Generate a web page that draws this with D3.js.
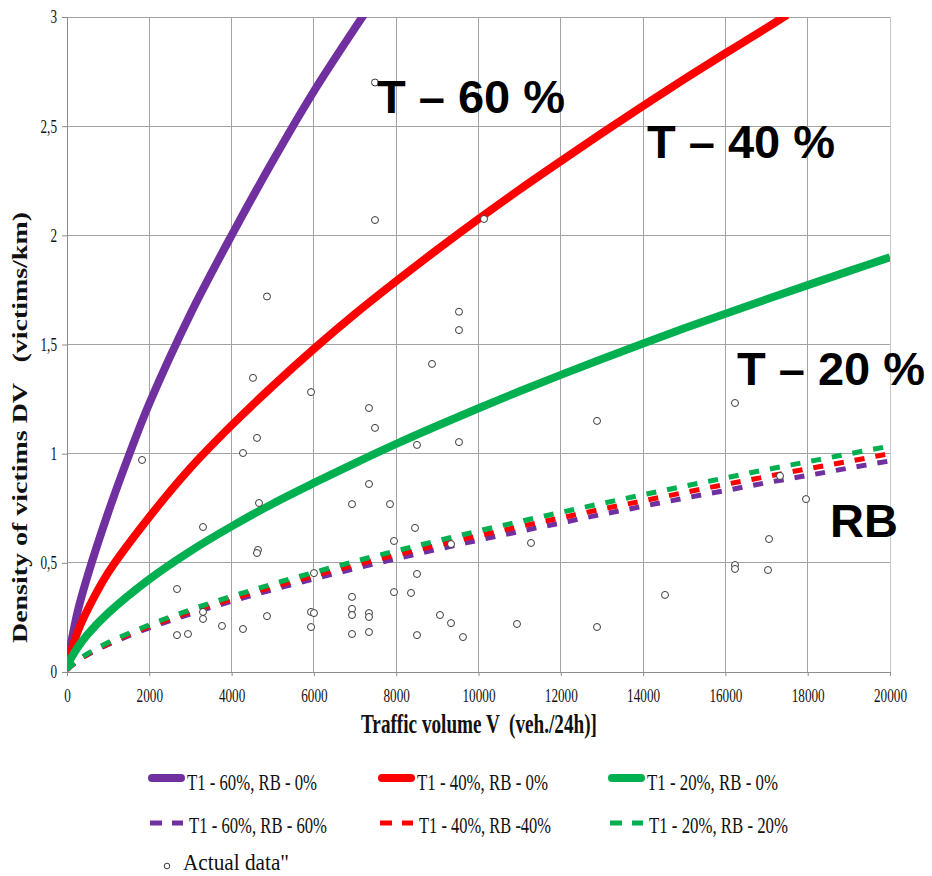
<!DOCTYPE html>
<html><head><meta charset="utf-8">
<script src="https://cdn.jsdelivr.net/npm/d3@7"></script>
<style>body{margin:0;background:#fff}svg{display:block}</style>
</head><body><svg id="c" width="932" height="876"></svg>
<script>
// ---------- data ----------
const xTicks = [0,2000,4000,6000,8000,10000,12000,14000,16000,18000,20000];
const yTicks = [0,0.5,1,1.5,2,2.5,3];
const yTickLabels = ["0","0,5","1","1,5","2","2,5","3"];

const purpleV = [0,250,500,1000,1500,2000,3000,4000,5000,6000,7000,7500];
const purpleSolid = [0.03,0.27,0.44,0.73,0.99,1.23,1.64,2.0,2.34,2.66,2.95,3.09];

const redV = [0,250,500,1000,2000,3000,4000,5000,6000,7000,8000,9000,10000,11000,12000,13000,14000,15000,16000,17000,17500];
const redSolid = [0.03,0.18,0.285,0.455,0.71,0.935,1.13,1.31,1.48,1.64,1.79,1.935,2.075,2.21,2.34,2.468,2.593,2.715,2.834,2.95,3.01];

const commonV = [0,250,500,1000,2000,3000,4000,5000,6000,7000,8000,9000,10000,11000,12000,13000,14000,15000,16000,17000,18000,19000,20000];
const greenSolid   = [0.03,0.11,0.172,0.27,0.425,0.554,0.667,0.771,0.866,0.957,1.045,1.128,1.208,1.286,1.361,1.434,1.505,1.574,1.641,1.707,1.772,1.836,1.90];
const purpleDashed = [0.01,0.05,0.079,0.126,0.202,0.266,0.324,0.377,0.426,0.474,0.519,0.562,0.604,0.644,0.683,0.722,0.759,0.796,0.831,0.867,0.900,0.934,0.967];
const redDashed    = [0.01,0.051,0.081,0.13,0.209,0.275,0.334,0.389,0.441,0.49,0.536,0.581,0.624,0.666,0.706,0.746,0.784,0.822,0.859,0.895,0.931,0.965,1.0];
const greenDashed  = [0.01,0.053,0.084,0.135,0.216,0.285,0.346,0.403,0.456,0.507,0.555,0.601,0.646,0.689,0.731,0.772,0.812,0.851,0.889,0.927,0.963,0.999,1.035];

const actualV  = [4860,7485,7485,10134,9526,9526,4520,5930,4617,1823,4277,4666,3305,4641,4617,2673,6002,3305,3305,4860,3767,4277,2673,2940,5930,6002,5930,
                  8870,7339,7485,8505,9526,12880,7339,6926,7849,8457,7946,9332,11276,8505,6926,7946,8360,6926,6926,7339,7339,9064,9332,10935,12880,6926,7339,8505,9623,
                  16233,17327,17959,17060,16233,16233,17035,14532];
const actualDV = [1.72,2.70,2.07,2.075,1.65,1.566,1.347,1.282,1.072,0.971,1.003,0.774,0.664,0.559,0.545,0.38,0.453,0.275,0.243,0.256,0.211,0.197,0.169,0.174,0.275,0.27,0.206,
                  1.411,1.209,1.118,1.04,1.053,1.15,0.861,0.769,0.769,0.66,0.60,0.586,0.591,0.449,0.344,0.366,0.362,0.289,0.261,0.27,0.252,0.261,0.224,0.22,0.206,0.174,0.183,0.169,0.16,
                  1.232,0.898,0.792,0.609,0.49,0.472,0.467,0.353];

const seriesNames = ["T1 - 60%, RB - 0%","T1 - 40%, RB - 0%","T1 - 20%, RB - 0%",
                     "T1 - 60%, RB - 60%","T1 - 40%, RB -40%","T1 - 20%, RB - 20%"];
const pointsName = "Actual data\"";
const annotations = ["T \u2013 60 %","T \u2013 40 %","T \u2013 20 %","RB"];

// ---------- drawing ----------
const PURPLE="#7030A0", RED="#FF0000", GREEN="#00B050";
const svg = d3.select("#c");
const x = d3.scaleLinear([0,20000],[67,890]);
const y = d3.scaleLinear([0,3],[672,17]);
const serif = "'Liberation Serif','Times New Roman',serif";
const sans = "'Liberation Sans',Arial,sans-serif";
// condensed look of the original text: width per character
const charW = c => (c===","||c===".") ? 3.3 : 6.6;
const strW = s => Array.from(s).reduce((a,c)=>a+charW(c),0);

svg.append("defs").append("clipPath").attr("id","clip")
  .append("rect").attr("x",67).attr("y",17).attr("width",823).attr("height",655);

// grid
const grid = svg.append("g");
grid.selectAll("line.v").data(xTicks).join("line")
  .attr("x1",d=>x(d)).attr("x2",d=>x(d)).attr("y1",y(3)).attr("y2",y(0))
  .attr("stroke",d=>d===20000?"#c8c8c8":"#a3a3a3").attr("stroke-width",1).attr("shape-rendering","crispEdges");
grid.selectAll("line.h").data(yTicks).join("line")
  .attr("x1",x(0)).attr("x2",x(20000)).attr("y1",d=>y(d)).attr("y2",d=>y(d))
  .attr("stroke","#a3a3a3").attr("stroke-width",1).attr("shape-rendering","crispEdges");

// axes
const xAxis = svg.append("g").attr("transform",`translate(0,${y(0)})`)
  .call(d3.axisBottom(x).tickValues(xTicks).tickFormat(d=>String(d)).tickSize(4));
xAxis.select(".domain").attr("stroke","#8c8c8c");
xAxis.selectAll(".tick line").attr("stroke","#8c8c8c");
xAxis.selectAll("text").attr("y",30).attr("dy",0).attr("fill","#111")
  .style("font-family",serif).style("font-size","18px")
  .attr("textLength",function(){return strW(this.textContent);}).attr("lengthAdjust","spacingAndGlyphs");

const yAxis = svg.append("g").attr("transform",`translate(${x(0)},0)`)
  .call(d3.axisLeft(y).tickValues(yTicks).tickFormat((d,i)=>yTickLabels[i]).tickSize(5));
yAxis.select(".domain").attr("stroke","#8c8c8c");
yAxis.selectAll(".tick line").attr("stroke","#8c8c8c");
yAxis.selectAll("text").attr("x",-10).attr("dy","0.33em").attr("fill","#111")
  .style("font-family",serif).style("font-size","18px")
  .attr("textLength",function(){return strW(this.textContent);}).attr("lengthAdjust","spacingAndGlyphs");

// axis titles
svg.append("text").attr("x",479).attr("y",733).attr("text-anchor","middle")
  .attr("xml:space","preserve").style("white-space","pre")
  .attr("textLength",236).attr("lengthAdjust","spacingAndGlyphs")
  .style("font-family",serif).style("font-size","28px").style("font-weight","bold").attr("fill","#111")
  .text("Traffic volume V  (veh./24h)]");
svg.append("text").attr("transform","translate(27,643) rotate(-90)")
  .attr("xml:space","preserve").style("white-space","pre")
  .attr("textLength",431).attr("lengthAdjust","spacingAndGlyphs")
  .style("font-family",serif).style("font-size","21px").style("font-weight","bold").attr("fill","#111")
  .text("Density of victims DV   (victims/km)");

// curves
const plot = svg.append("g").attr("clip-path","url(#clip)");
const line = d3.line().x(d=>x(d[0])).y(d=>y(d[1])).curve(d3.curveCatmullRom.alpha(0.5));
const zipS = (vs,ds)=>vs.map((v,i)=>[v,ds[i]]);

const dashed = [[purpleDashed,PURPLE],[redDashed,RED],[greenDashed,GREEN]];
dashed.forEach(([ds,c])=>{
  plot.append("path").attr("d",line(zipS(commonV,ds))).attr("fill","none")
    .attr("stroke",c).attr("stroke-width",5).attr("stroke-dasharray","10,11");
});
const solid = [[purpleV,purpleSolid,PURPLE],[redV,redSolid,RED],[commonV,greenSolid,GREEN]];
solid.forEach(([vs,ds,c])=>{
  plot.append("path").attr("d",line(zipS(vs,ds))).attr("fill","none")
    .attr("stroke",c).attr("stroke-width",8).attr("stroke-linejoin","round");
});

// actual data
plot.selectAll("circle.pt").data(zipS(actualV,actualDV)).join("circle")
  .attr("cx",d=>x(d[0])).attr("cy",d=>y(d[1])).attr("r",3.5)
  .attr("fill","white").attr("stroke","#3a3a3a").attr("stroke-width",1);

// annotations (anchored in data units)
const annPos = [[7534,2.56],[14095,2.354],[16282,1.3145],[18542,0.618]];
svg.selectAll("text.ann").data(annotations).join("text")
  .attr("x",(d,i)=>x(annPos[i][0])).attr("y",(d,i)=>y(annPos[i][1]))
  .style("font-family",sans).style("font-weight","bold").style("font-size","47px").attr("fill","#000")
  .text(d=>d);

// legend
const lg = svg.append("g");
const colors = [PURPLE,RED,GREEN];
const colX = [148,378,608];
const rowY = [778,823];
const legendW = [130,131,131,138,132,139];
seriesNames.forEach((name,i)=>{
  const col = i%3, row = Math.floor(i/3);
  const g = lg.append("g");
  if(row===0){
    g.append("line").attr("x1",colX[col]+4).attr("x2",colX[col]+33).attr("y1",rowY[0]).attr("y2",rowY[0])
      .attr("stroke",colors[col]).attr("stroke-width",8).attr("stroke-linecap","round");
  } else {
    g.append("line").attr("x1",colX[col]+2).attr("x2",colX[col]+35).attr("y1",rowY[1]).attr("y2",rowY[1])
      .attr("stroke",colors[col]).attr("stroke-width",5).attr("stroke-dasharray","12,10").attr("stroke-linecap","butt");
  }
  g.append("text").attr("x",colX[col] + (row===0?39:41)).attr("y",row===0?790:833)
    .attr("textLength",legendW[i]).attr("lengthAdjust","spacingAndGlyphs")
    .style("font-family",serif).style("font-size","23px").attr("fill","#111").text(name);
});
lg.append("circle").attr("cx",167).attr("cy",866).attr("r",2.8).attr("fill","white").attr("stroke","#3a3a3a");
lg.append("text").attr("x",183).attr("y",870)
  .attr("textLength",106).attr("lengthAdjust","spacingAndGlyphs")
  .style("font-family",serif).style("font-size","23px").attr("fill","#111").text(pointsName);
</script></body></html>
